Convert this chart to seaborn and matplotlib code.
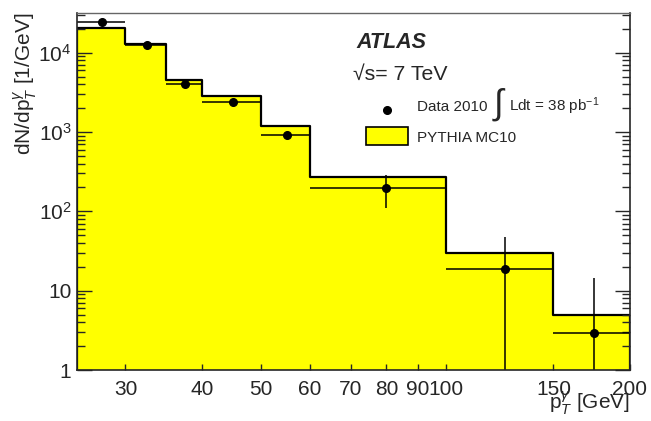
import matplotlib
matplotlib.use("Agg")
import matplotlib.pyplot as plt
import matplotlib.ticker as mticker
from matplotlib.patches import Rectangle
import seaborn as sns
import numpy as np

# photon pT bins [GeV]
bin_edges = [25, 30, 35, 40, 50, 60, 100, 150, 200]
bin_centers = [27.5, 32.5, 37.5, 45, 55, 80, 125, 175]
half_widths = [2.5, 2.5, 2.5, 5, 5, 20, 25, 25]

# PYTHIA MC10 prediction, dN/dpT [1/GeV]
mc_values = [20700, 12800, 4500, 2830, 1200, 270, 29.7, 4.9]

# Data 2010
data_values = [24000, 12400, 3980, 2380, 908, 198, 18.8, 2.9]
data_errors = [160, 110, 60, 35, 20, 87, 29, 11.7]

x_ticks = [30, 40, 50, 60, 70, 80, 90, 100, 150, 200]
y_ticks = [1, 10, 100, 1000, 10000]
y_tick_labels = ["1", "10", r"$10^{2}$", r"$10^{3}$", r"$10^{4}$"]

sns.set_style("ticks")
plt.rcParams["font.family"] = ["Liberation Sans", "DejaVu Sans"]
plt.rcParams["mathtext.fontset"] = "custom"
plt.rcParams["mathtext.rm"] = "Liberation Sans"
plt.rcParams["mathtext.it"] = "Liberation Sans:italic"
plt.rcParams["mathtext.bf"] = "Liberation Sans:bold"

fig = plt.figure(figsize=(6.51, 4.21), dpi=100)
ax = fig.add_axes([0.1183, 0.1211, 0.8494, 0.848])

sns.histplot(x=bin_centers, weights=mc_values, bins=bin_edges,
             element="step", fill=True, color="#ffff00", alpha=1,
             edgecolor="black", linewidth=1.6, ax=ax, zorder=1)

ax.errorbar(bin_centers, data_values, xerr=half_widths, yerr=data_errors,
            fmt="o", color="black", ms=5.5, elinewidth=1.1, capsize=0,
            zorder=3)

ax.set_xscale("log")
ax.set_yscale("log")
ax.set_xlim(25, 200)
ax.set_ylim(1, 31600)
ax.set_axisbelow(False)

ax.xaxis.set_major_locator(mticker.FixedLocator(x_ticks))
ax.xaxis.set_major_formatter(mticker.FixedFormatter([str(t) for t in x_ticks]))
ax.xaxis.set_minor_locator(mticker.NullLocator())
ax.yaxis.set_major_locator(mticker.FixedLocator(y_ticks))
ax.yaxis.set_major_formatter(mticker.FixedFormatter(y_tick_labels))
ax.yaxis.set_minor_locator(mticker.LogLocator(base=10, subs=np.arange(2, 10)))
ax.yaxis.set_minor_formatter(mticker.NullFormatter())

ax.tick_params(axis="x", which="major", direction="in", length=4, width=1,
               labelsize=15, pad=7, top=False)
ax.tick_params(axis="y", which="major", direction="in", length=11, width=1,
               labelsize=15, pad=4, right=True)
ax.tick_params(axis="y", which="minor", direction="in", length=5.5, width=1,
               right=True)
for name, s in ax.spines.items():
    s.set_visible(True)
    s.set_linewidth(1.2)
    s.set_zorder(5)
ax.spines["top"].set_color("#666666")
ax.spines["top"].set_linewidth(1.0)

ax.set_ylabel(r"dN/dp$_{T}^{\gamma}$ [1/GeV]", fontsize=15, loc="top")
ax.yaxis.set_label_coords(-0.068, 1.0)
ax.set_xlabel(r"p$_{T}^{\gamma}$ [GeV]", fontsize=15, loc="right")
ax.xaxis.set_label_coords(1.0, -0.055)

fig.text(0.548, 0.885, "ATLAS", fontsize=15.5, fontweight="bold",
         fontstyle="italic", va="baseline")
fig.text(0.542, 0.810, "\u221as= 7 TeV", fontsize=15.3, va="baseline")

fig.lines.append(plt.Line2D([0.594], [0.738], marker="o", ms=5.5,
                            color="black", transform=fig.transFigure))
fig.text(0.640, 0.736, "Data 2010", fontsize=11, va="baseline")
fig.text(0.755, 0.751, r"$\int$", fontsize=25, va="center")
fig.text(0.782, 0.736, r"Ldt = 38 pb$^{-1}$", fontsize=11, va="baseline")
fig.patches.append(Rectangle((0.5617, 0.6556), 0.0654, 0.0435,
                             facecolor="#ffff00", edgecolor="black",
                             linewidth=1.2, transform=fig.transFigure))
fig.text(0.640, 0.6634, "PYTHIA MC10", fontsize=11, va="baseline")

fig.savefig("out.png", dpi=100)
